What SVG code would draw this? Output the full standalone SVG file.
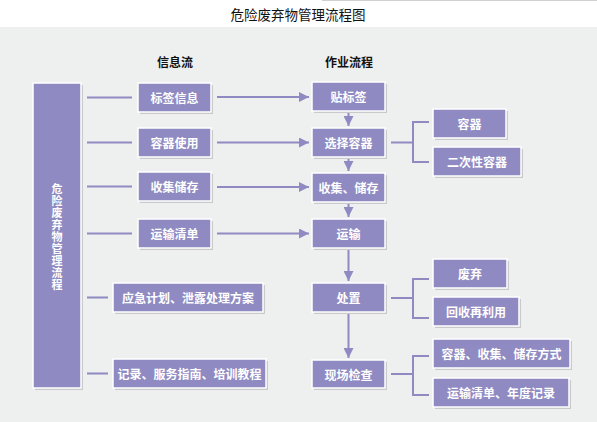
<svg xmlns="http://www.w3.org/2000/svg" width="597" height="422" viewBox="0 0 597 422">
<defs>
<style>
.bg{fill:#eeefef}
.shadow{fill:#c9c9cc}
.box{fill:#8f8bc2;stroke:#ffffff;stroke-width:1.5}
.lbl{font-family:"Noto Sans CJK SC","Noto Sans",sans-serif;font-size:12px;font-weight:bold;fill:#ffffff;text-anchor:middle;dominant-baseline:central}
.vlbl{font-family:"Noto Sans CJK SC","Noto Sans",sans-serif;font-size:11px;font-weight:bold;fill:#ffffff;text-anchor:middle;writing-mode:vertical-rl;letter-spacing:1px}
.hdr{font-family:"Noto Sans CJK SC","Noto Sans",sans-serif;font-size:12px;font-weight:bold;fill:#111111;text-anchor:middle;dominant-baseline:central}
.title{font-family:"Noto Sans CJK SC","Noto Sans",sans-serif;font-size:13.5px;fill:#111111;text-anchor:middle;dominant-baseline:central}
.ln{fill:none;stroke:#8f8bc2;stroke-width:2}
</style>
<marker id="ah" viewBox="0 0 10 10" refX="10" refY="5" markerWidth="5" markerHeight="5" orient="auto" markerUnits="strokeWidth">
<path d="M0,0 L10,5 L0,10 z" fill="#8f8bc2"/>
</marker>
</defs>
<rect x="0" y="0" width="597" height="422" fill="#ffffff"/>
<line x1="322" y1="0.5" x2="597" y2="0.5" stroke="#cfd1d1" stroke-width="1"/>
<rect class="bg" x="0" y="27" width="597" height="395"/>
<text class="title" x="298" y="14">危险废弃物管理流程图</text>
<text class="hdr" x="175" y="61">信息流</text>
<text class="hdr" x="349" y="61">作业流程</text>

<g id="connectors">
<line class="ln" x1="87" y1="97.5" x2="132" y2="97.5"/>
<line class="ln" x1="87" y1="142.5" x2="132" y2="142.5"/>
<line class="ln" x1="87" y1="186.5" x2="132" y2="186.5"/>
<line class="ln" x1="87" y1="233.5" x2="132" y2="233.5"/>
<line class="ln" x1="87" y1="297.5" x2="108" y2="297.5"/>
<line class="ln" x1="87" y1="373.5" x2="108" y2="373.5"/>
<line class="ln" x1="217" y1="97" x2="309" y2="97" marker-end="url(#ah)"/>
<line class="ln" x1="217" y1="142.5" x2="309" y2="142.5" marker-end="url(#ah)"/>
<line class="ln" x1="217" y1="187" x2="309" y2="187" marker-end="url(#ah)"/>
<line class="ln" x1="217" y1="233.5" x2="309" y2="233.5" marker-end="url(#ah)"/>
<line class="ln" x1="348.5" y1="112" x2="348.5" y2="126" marker-end="url(#ah)"/>
<line class="ln" x1="348.5" y1="158" x2="348.5" y2="171" marker-end="url(#ah)"/>
<line class="ln" x1="348.5" y1="203" x2="348.5" y2="217" marker-end="url(#ah)"/>
<line class="ln" x1="348.5" y1="249" x2="348.5" y2="281" marker-end="url(#ah)"/>
<line class="ln" x1="348.5" y1="313" x2="348.5" y2="358" marker-end="url(#ah)"/>
<path class="ln" d="M391,142.5 H413 M429,122 H413 V162 H429"/>
<path class="ln" d="M391,298 H413 M429,279 H413 V318 H429"/>
<path class="ln" d="M391,374 H413 M429,356 H413 V395 H429"/>
</g>

<g id="n-main">
<rect class="shadow" x="35" y="85" width="48" height="305"/>
<rect class="box" x="33" y="83" width="48" height="305"/>
<text class="vlbl" x="57" y="237">危险废弃物管理流程</text>
</g>

<g id="n-info1"><rect class="shadow" x="140" y="85" width="73" height="29"/><rect class="box" x="138" y="83" width="73" height="29"/><text class="lbl" x="174.5" y="97.5">标签信息</text></g>
<g id="n-info2"><rect class="shadow" x="140" y="130" width="73" height="29"/><rect class="box" x="138" y="128" width="73" height="29"/><text class="lbl" x="174.5" y="142.5">容器使用</text></g>
<g id="n-info3"><rect class="shadow" x="140" y="174" width="73" height="29"/><rect class="box" x="138" y="172" width="73" height="29"/><text class="lbl" x="174.5" y="186.5">收集储存</text></g>
<g id="n-info4"><rect class="shadow" x="140" y="221" width="73" height="29"/><rect class="box" x="138" y="219" width="73" height="29"/><text class="lbl" x="174.5" y="233.5">运输清单</text></g>
<g id="n-info5"><rect class="shadow" x="115" y="285" width="150" height="29"/><rect class="box" x="113" y="283" width="150" height="29"/><text class="lbl" x="188" y="297.5">应急计划、泄露处理方案</text></g>
<g id="n-info6"><rect class="shadow" x="115" y="361" width="153" height="29"/><rect class="box" x="113" y="359" width="153" height="29"/><text class="lbl" x="189.5" y="373.5">记录、服务指南、培训教程</text></g>

<g id="n-op1"><rect class="shadow" x="314" y="84" width="73" height="29"/><rect class="box" x="312" y="82" width="73" height="29"/><text class="lbl" x="348.5" y="96.5">贴标签</text></g>
<g id="n-op2"><rect class="shadow" x="314" y="130" width="73" height="29"/><rect class="box" x="312" y="128" width="73" height="29"/><text class="lbl" x="348.5" y="142.5">选择容器</text></g>
<g id="n-op3"><rect class="shadow" x="314" y="175" width="73" height="29"/><rect class="box" x="312" y="173" width="73" height="29"/><text class="lbl" x="348.5" y="187.5">收集、储存</text></g>
<g id="n-op4"><rect class="shadow" x="314" y="221" width="73" height="29"/><rect class="box" x="312" y="219" width="73" height="29"/><text class="lbl" x="348.5" y="233.5">运输</text></g>
<g id="n-op5"><rect class="shadow" x="314" y="285" width="73" height="29"/><rect class="box" x="312" y="283" width="73" height="29"/><text class="lbl" x="348.5" y="297.5">处置</text></g>
<g id="n-op6"><rect class="shadow" x="314" y="362" width="73" height="28"/><rect class="box" x="312" y="360" width="73" height="28"/><text class="lbl" x="348.5" y="374">现场检查</text></g>

<g id="n-r1"><rect class="shadow" x="435" y="111" width="73" height="29"/><rect class="box" x="433" y="109" width="73" height="29"/><text class="lbl" x="469.5" y="123.5">容器</text></g>
<g id="n-r2"><rect class="shadow" x="435" y="149" width="88" height="29"/><rect class="box" x="433" y="147" width="88" height="29"/><text class="lbl" x="477" y="161.5">二次性容器</text></g>
<g id="n-r3"><rect class="shadow" x="435" y="261" width="74" height="29"/><rect class="box" x="433" y="259" width="74" height="29"/><text class="lbl" x="470" y="273.5">废弃</text></g>
<g id="n-r4"><rect class="shadow" x="435" y="299" width="86" height="29"/><rect class="box" x="433" y="297" width="86" height="29"/><text class="lbl" x="476" y="311.5">回收再利用</text></g>
<g id="n-r5"><rect class="shadow" x="435" y="341" width="137" height="29"/><rect class="box" x="433" y="339" width="137" height="29"/><text class="lbl" x="501.5" y="353.5">容器、收集、储存方式</text></g>
<g id="n-r6"><rect class="shadow" x="435" y="380" width="136" height="29"/><rect class="box" x="433" y="378" width="136" height="29"/><text class="lbl" x="501" y="392.5">运输清单、年度记录</text></g>
</svg>
